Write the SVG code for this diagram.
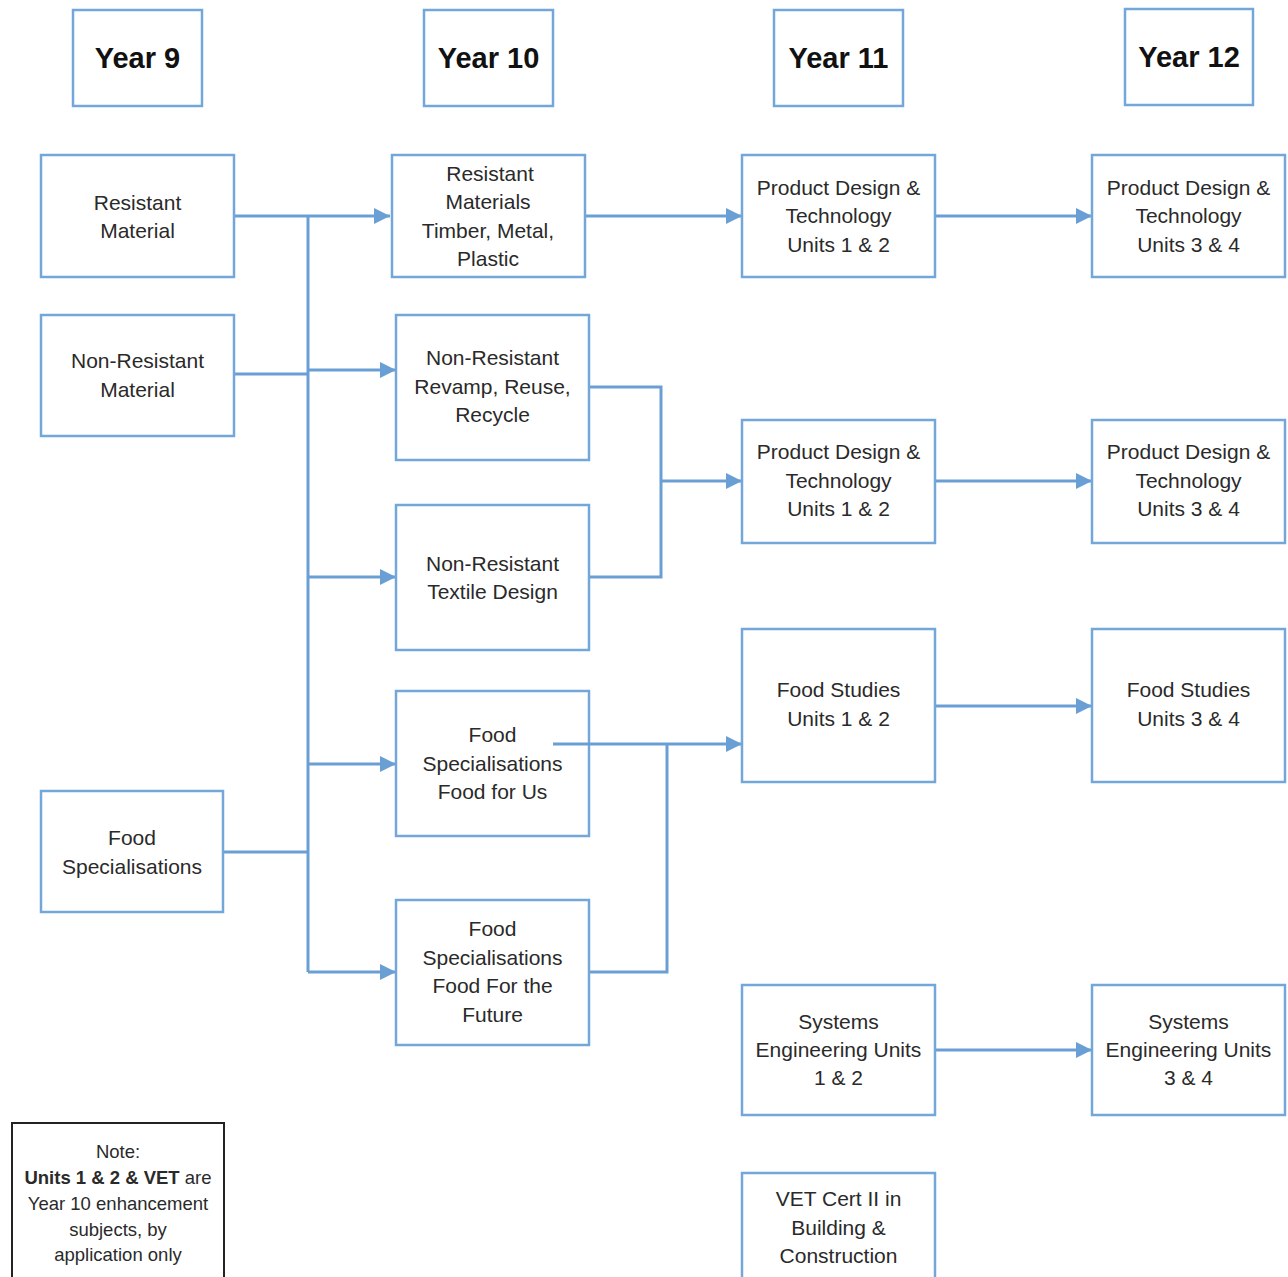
<svg xmlns="http://www.w3.org/2000/svg" width="1288" height="1277" viewBox="0 0 1288 1277">
<style>
.box{fill:#fff;stroke:#73a6d9;stroke-width:2.5}
.note{fill:#fff;stroke:#222;stroke-width:2}
.t{font-family:"Liberation Sans",Arial,sans-serif;font-size:21px;fill:#2a2a2a;text-anchor:middle}
.h{font-family:"Liberation Sans",Arial,sans-serif;font-size:29px;font-weight:bold;fill:#111;text-anchor:middle}
.n{font-family:"Liberation Sans",Arial,sans-serif;font-size:18.5px;fill:#2a2a2a;text-anchor:middle}
.c{fill:none;stroke:#6a9fd6;stroke-width:3}
</style>
<defs>
<marker id="a" markerUnits="userSpaceOnUse" markerWidth="18" markerHeight="18" refX="16" refY="8" orient="auto">
<path d="M0,0 L16,8 L0,16 Z" fill="#6a9fd6"/>
</marker>
</defs>
<rect width="1288" height="1277" fill="#fff"/>

<g id="connectors">
<path class="c" d="M234,216 H390" marker-end="url(#a)"/>
<path class="c" d="M308,216 V972"/>
<path class="c" d="M234,374 H308"/>
<path class="c" d="M223,852 H308"/>
<path class="c" d="M308,370 H396" marker-end="url(#a)"/>
<path class="c" d="M308,577 H396" marker-end="url(#a)"/>
<path class="c" d="M308,764 H396" marker-end="url(#a)"/>
<path class="c" d="M308,972 H396" marker-end="url(#a)"/>
<path class="c" d="M585,216 H742" marker-end="url(#a)"/>
<path class="c" d="M589,387 H661 V577 H589"/>
<path class="c" d="M661,481 H742" marker-end="url(#a)"/>
<path class="c" d="M589,972 H667 V744"/>
<path class="c" d="M935,216 H1092" marker-end="url(#a)"/>
<path class="c" d="M935,481 H1092" marker-end="url(#a)"/>
<path class="c" d="M935,706 H1092" marker-end="url(#a)"/>
<path class="c" d="M935,1050 H1092" marker-end="url(#a)"/>
</g>

<g id="year9"><rect class="box" x="73" y="10" width="129" height="96"/><text class="h" x="137.5" y="68">Year 9</text></g>
<g id="year10"><rect class="box" x="424" y="10" width="129" height="96"/><text class="h" x="488.5" y="68">Year 10</text></g>
<g id="year11"><rect class="box" x="774" y="10" width="129" height="96"/><text class="h" x="838.5" y="68">Year 11</text></g>
<g id="year12"><rect class="box" x="1125" y="9" width="128" height="96"/><text class="h" x="1189" y="67">Year 12</text></g>

<g id="resistant-material"><rect class="box" x="41" y="155" width="193" height="122"/>
<text class="t" x="137.5" y="210">Resistant</text><text class="t" x="137.5" y="238">Material</text></g>
<g id="non-resistant-material"><rect class="box" x="41" y="315" width="193" height="121"/>
<text class="t" x="137.5" y="368">Non-Resistant</text><text class="t" x="137.5" y="397">Material</text></g>
<g id="food-specialisations"><rect class="box" x="41" y="791" width="182" height="121"/>
<text class="t" x="132" y="845">Food</text><text class="t" x="132" y="874">Specialisations</text></g>

<g id="resistant-materials-timber"><rect class="box" x="392" y="155" width="193" height="122"/>
<text class="t" x="490" y="181">Resistant</text><text class="t" x="488" y="209">Materials</text><text class="t" x="488" y="238">Timber, Metal,</text><text class="t" x="488" y="266">Plastic</text></g>
<g id="non-resistant-revamp"><rect class="box" x="396" y="315" width="193" height="145"/>
<text class="t" x="492.5" y="365">Non-Resistant</text><text class="t" x="492.5" y="394">Revamp, Reuse,</text><text class="t" x="492.5" y="422">Recycle</text></g>
<g id="non-resistant-textile"><rect class="box" x="396" y="505" width="193" height="145"/>
<text class="t" x="492.5" y="571">Non-Resistant</text><text class="t" x="492.5" y="599">Textile Design</text></g>
<g id="food-for-us"><rect class="box" x="396" y="691" width="193" height="145"/>
<text class="t" x="492.5" y="742">Food</text><text class="t" x="492.5" y="771">Specialisations</text><text class="t" x="492.5" y="799">Food for Us</text></g>
<g id="food-for-future"><rect class="box" x="396" y="900" width="193" height="145"/>
<text class="t" x="492.5" y="936">Food</text><text class="t" x="492.5" y="965">Specialisations</text><text class="t" x="492.5" y="993">Food For the</text><text class="t" x="492.5" y="1022">Future</text></g>

<path class="c" d="M553,744 H742" marker-end="url(#a)"/>

<g id="pdt12-a"><rect class="box" x="742" y="155" width="193" height="122"/>
<text class="t" x="838.5" y="195">Product Design &amp;</text><text class="t" x="838.5" y="223">Technology</text><text class="t" x="838.5" y="252">Units 1 &amp; 2</text></g>
<g id="pdt12-b"><rect class="box" x="742" y="420" width="193" height="123"/>
<text class="t" x="838.5" y="459">Product Design &amp;</text><text class="t" x="838.5" y="488">Technology</text><text class="t" x="838.5" y="516">Units 1 &amp; 2</text></g>
<g id="food12"><rect class="box" x="742" y="629" width="193" height="153"/>
<text class="t" x="838.5" y="697">Food Studies</text><text class="t" x="838.5" y="726">Units 1 &amp; 2</text></g>
<g id="sys12"><rect class="box" x="742" y="985" width="193" height="130"/>
<text class="t" x="838.5" y="1029">Systems</text><text class="t" x="838.5" y="1057">Engineering Units</text><text class="t" x="838.5" y="1085">1 &amp; 2</text></g>
<g id="vet"><rect class="box" x="742" y="1173" width="193" height="130"/>
<text class="t" x="838.5" y="1206">VET Cert II in</text><text class="t" x="838.5" y="1235">Building &amp;</text><text class="t" x="838.5" y="1263">Construction</text></g>

<g id="pdt34-a"><rect class="box" x="1092" y="155" width="193" height="122"/>
<text class="t" x="1188.5" y="195">Product Design &amp;</text><text class="t" x="1188.5" y="223">Technology</text><text class="t" x="1188.5" y="252">Units 3 &amp; 4</text></g>
<g id="pdt34-b"><rect class="box" x="1092" y="420" width="193" height="123"/>
<text class="t" x="1188.5" y="459">Product Design &amp;</text><text class="t" x="1188.5" y="488">Technology</text><text class="t" x="1188.5" y="516">Units 3 &amp; 4</text></g>
<g id="food34"><rect class="box" x="1092" y="629" width="193" height="153"/>
<text class="t" x="1188.5" y="697">Food Studies</text><text class="t" x="1188.5" y="726">Units 3 &amp; 4</text></g>
<g id="sys34"><rect class="box" x="1092" y="985" width="193" height="130"/>
<text class="t" x="1188.5" y="1029">Systems</text><text class="t" x="1188.5" y="1057">Engineering Units</text><text class="t" x="1188.5" y="1085">3 &amp; 4</text></g>

<g id="note"><rect class="note" x="12" y="1123" width="212" height="200"/>
<text class="n" x="118" y="1158">Note:</text>
<text class="n" x="118" y="1184"><tspan font-weight="bold">Units 1 &amp; 2 &amp; VET</tspan> are</text>
<text class="n" x="118" y="1210">Year 10 enhancement</text>
<text class="n" x="118" y="1236">subjects, by</text>
<text class="n" x="118" y="1261">application only</text></g>
</svg>
